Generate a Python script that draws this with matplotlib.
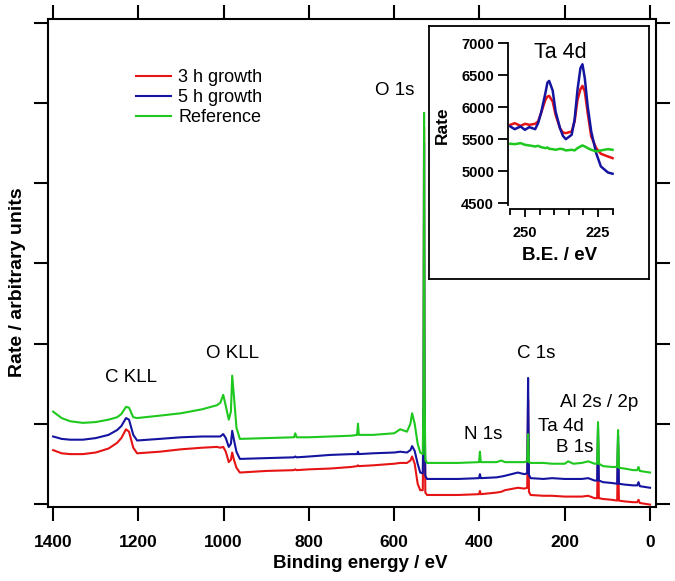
import numpy as np
import matplotlib
matplotlib.use("Agg")
import matplotlib.pyplot as plt
from matplotlib.ticker import MultipleLocator

plt.rcParams["font.family"] = ["Liberation Sans", "DejaVu Sans"]

# --- survey spectra (binding energy in eV, rate in arbitrary units) ---
energy = [1400, 1380, 1360, 1330, 1300, 1270, 1250, 1240, 1229, 1222,
          1212, 1203, 1150, 1100, 1050, 1016, 1008, 1001, 995, 988,
          983, 980, 976, 970, 962, 900, 835, 832, 829, 800,
          750, 700, 687, 685, 683, 650, 600, 586, 570, 562,
          558, 552, 545, 539, 533, 531, 530, 529, 527, 523,
          500, 450, 401, 399, 397, 360, 349, 340, 310, 295,
          288, 286, 284, 280, 250, 230, 200, 192, 180, 160,
          145, 130, 124, 122, 120, 110, 90, 77, 75, 73,
          60, 40, 30, 27, 24, 0]
rate_3h = [0.67, 0.63, 0.62, 0.62, 0.64, 0.69, 0.76, 0.82, 0.93, 0.90,
           0.70, 0.63, 0.65, 0.68, 0.70, 0.71, 0.70, 0.71, 0.65, 0.52,
           0.55, 0.64, 0.55, 0.45, 0.39, 0.41, 0.42, 0.43, 0.42, 0.43,
           0.44, 0.46, 0.47, 0.48, 0.47, 0.48, 0.50, 0.51, 0.51, 0.54,
           0.59, 0.50, 0.25, 0.17, 0.17, 1.20, 4.70, 1.20, 0.14, 0.11,
           0.11, 0.11, 0.12, 0.16, 0.12, 0.14, 0.15, 0.17, 0.20, 0.19,
           0.20, 1.30, 0.15, 0.11, 0.10, 0.10, 0.09, 0.09, 0.09, 0.09,
           0.10, 0.07, 0.07, 0.80, 0.07, 0.06, 0.05, 0.04, 0.75, 0.04,
           0.03, 0.02, 0.02, 0.05, 0.01, -0.01]
rate_5h = [0.84, 0.81, 0.80, 0.80, 0.82, 0.86, 0.92, 0.97, 1.07, 1.05,
           0.86, 0.79, 0.81, 0.83, 0.84, 0.84, 0.84, 0.87, 0.82, 0.71,
           0.75, 0.91, 0.80, 0.65, 0.56, 0.57, 0.58, 0.59, 0.58, 0.59,
           0.61, 0.62, 0.62, 0.65, 0.62, 0.63, 0.64, 0.65, 0.64, 0.67,
           0.72, 0.66, 0.50, 0.39, 0.38, 1.30, 4.50, 1.30, 0.35, 0.31,
           0.31, 0.31, 0.32, 0.37, 0.32, 0.33, 0.34, 0.35, 0.39, 0.37,
           0.38, 1.57, 0.36, 0.32, 0.31, 0.32, 0.31, 0.31, 0.31, 0.31,
           0.32, 0.29, 0.29, 0.95, 0.29, 0.27, 0.26, 0.25, 0.85, 0.25,
           0.24, 0.23, 0.23, 0.27, 0.22, 0.20]
rate_ref = [1.15, 1.07, 1.03, 1.01, 1.02, 1.05, 1.08, 1.12, 1.21, 1.20,
            1.08, 1.07, 1.10, 1.13, 1.18, 1.23, 1.26, 1.36, 1.22, 1.05,
            1.15, 1.60, 1.35, 0.95, 0.81, 0.82, 0.83, 0.88, 0.83, 0.83,
            0.84, 0.85, 0.86, 1.00, 0.86, 0.86, 0.88, 0.93, 0.90, 1.00,
            1.13, 1.00, 0.75, 0.64, 0.62, 1.50, 4.88, 1.50, 0.55, 0.51,
            0.51, 0.51, 0.52, 0.65, 0.52, 0.52, 0.54, 0.52, 0.52, 0.52,
            0.53, 0.87, 0.52, 0.51, 0.51, 0.50, 0.50, 0.53, 0.50, 0.51,
            0.53, 0.50, 0.50, 1.02, 0.50, 0.47, 0.46, 0.46, 0.92, 0.45,
            0.44, 0.42, 0.42, 0.46, 0.41, 0.39]

# --- Ta 4d detail (inset) ---
be_ta = [255, 253.5, 251.5, 250, 248.5, 246.5, 245.5, 244.5, 243, 242.3,
         241.7, 240.5, 239.5, 238, 237, 236, 234, 233, 232, 231,
         230.3, 229.5, 228.5, 227.3, 225.6, 224, 221.6, 220]
ta_3h = [5726, 5752, 5710, 5742, 5726, 5742, 5778, 5908, 6116, 6168,
         6178, 6090, 5882, 5674, 5606, 5596, 5622, 5778, 6116, 6282,
         6334, 6246, 5908, 5544, 5362, 5274, 5232, 5206]
ta_5h = [5700, 5658, 5700, 5648, 5690, 5658, 5752, 5908, 6220, 6386,
         6412, 6262, 5934, 5674, 5554, 5502, 5570, 5804, 6272, 6610,
         6672, 6454, 6012, 5622, 5284, 5076, 4982, 4962]
ta_ref = [5430, 5424, 5440, 5414, 5404, 5388, 5398, 5378, 5362, 5372,
          5352, 5346, 5336, 5352, 5346, 5326, 5336, 5326, 5362, 5388,
          5404, 5388, 5362, 5336, 5310, 5326, 5346, 5336]

labels = ["3 h growth", "5 h growth", "Reference"]
colors = ["#e61414", "#1414a0", "#1ec81e"]

peak_names = ["O 1s", "C KLL", "O KLL", "C 1s", "N 1s", "Al 2s / 2p", "Ta 4d", "B 1s"]
peak_pos = [(598, 5.16), (1217, 1.57), (980, 1.88), (267, 1.87),
            (392, 0.87), (120, 1.26), (209, 0.96), (176, 0.70)]

W, H = 675, 581
def box(l, t, r, b):
    return [l / W, 1 - b / H, (r - l) / W, (b - t) / H]

fig = plt.figure(figsize=(W / 100, H / 100), dpi=100)

ax = fig.add_axes(box(48, 19, 656, 507))
for y, c, lab in zip([rate_3h, rate_5h, rate_ref], colors, labels):
    ax.plot(energy, y, color=c, lw=1.5, label=lab)
ax.set_xlim(1412, -14)
ax.set_ylim(-0.04, 6.05)
ax.set_xticks(np.arange(0, 1401, 200))
ax.set_yticks(np.arange(0, 7))
ax.tick_params(direction="out", length=10, width=1.5, top=True, right=True,
               labelleft=False, labelsize=12.5, pad=10)
for lab in ax.get_xticklabels():
    lab.set_fontweight("bold")
for s in ax.spines.values():
    s.set_linewidth(1.5)
for name, (x, y) in zip(peak_names, peak_pos):
    ax.text(x, y, name, fontsize=13.5, ha="center", va="center")

fig.text(360 / W, 1 - 563 / H, "Binding energy / eV", fontsize=13.5,
         fontweight="bold", ha="center", va="center")
fig.text(18 / W, 1 - 282 / H, "Rate / arbitrary units", fontsize=14,
         fontweight="bold", ha="center", va="center", rotation=90)

leg = ax.legend(loc="upper left", bbox_to_anchor=(136 / W, 1 - 69 / H),
                bbox_transform=fig.transFigure, frameon=False, fontsize=13,
                handlelength=1.95, handletextpad=0.4, labelspacing=0.17,
                borderpad=0, borderaxespad=0)

# inset frame
fr = fig.add_axes(box(429, 26, 649, 279))
fr.set_xticks([]); fr.set_yticks([])
fr.set_facecolor("white")
for s in fr.spines.values():
    s.set_linewidth(1.3)

ins = fig.add_axes(box(508, 42, 614, 209))
ins.patch.set_alpha(0)
for y, c in zip([ta_3h, ta_5h, ta_ref], colors):
    ins.plot(be_ta, y, color=c, lw=1.8)
ins.set_xlim(255.8, 219.5)
ins.set_ylim(4411, 7020)
ins.spines["top"].set_visible(False)
ins.spines["right"].set_visible(False)
ins.spines["left"].set_bounds(4470, 7000)
ins.spines["bottom"].set_bounds(255, 219.8)
for s in ins.spines.values():
    s.set_linewidth(1.3)
ins.set_yticks(np.arange(4500, 7001, 500))
ins.set_xticks([250, 225])
ins.xaxis.set_minor_locator(MultipleLocator(5))
ins.tick_params(axis="y", direction="out", length=7, width=1.3, labelsize=10.5, pad=3)
ins.tick_params(axis="x", which="major", direction="out", length=6, width=1.3,
                labelsize=10.5, pad=6)
ins.tick_params(axis="x", which="minor", direction="out", length=4, width=1.3)
for lab in ins.get_xticklabels() + ins.get_yticklabels():
    lab.set_fontweight("bold")
fig.text(560 / W, 1 - 52 / H, "Ta 4d", fontsize=15.5, ha="center", va="center")
fig.text(442 / W, 1 - 125 / H, "Rate", fontsize=12.5, fontweight="bold",
         ha="center", va="center", rotation=90)
fig.text(560 / W, 1 - 255 / H, "B.E. / eV", fontsize=13.5, fontweight="bold",
         ha="center", va="center")

fig.savefig("out.png", dpi=100)
